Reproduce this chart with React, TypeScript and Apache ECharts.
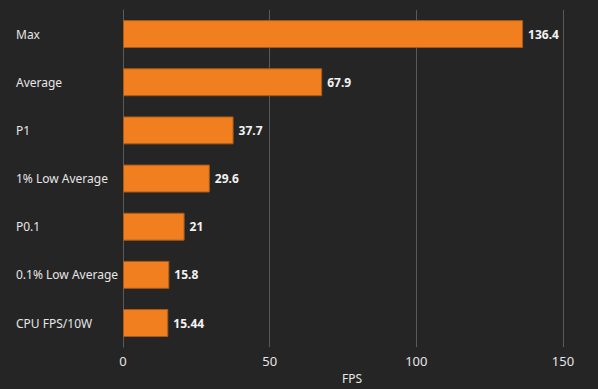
import React, { useEffect, useRef } from "react";
import * as echarts from "echarts";

const categories = [
  "Max",
  "Average",
  "P1",
  "1% Low Average",
  "P0.1",
  "0.1% Low Average",
  "CPU FPS/10W",
];
const values = [136.4, 67.9, 37.7, 29.6, 21, 15.8, 15.44];
const xTicks = [0, 50, 100, 150];

const FONT = "'Noto Sans', 'Open Sans', sans-serif";

export default function App() {
  const ref = useRef<HTMLDivElement>(null);
  useEffect(() => {
    if (!ref.current) return;
    const chart = echarts.init(ref.current, undefined, { renderer: "svg" });
    chart.setOption({
      animation: false,
      backgroundColor: "#252525",
      textStyle: { fontFamily: FONT },
      grid: { left: 123, right: 35, top: 10, bottom: 37, containLabel: false },
      xAxis: {
        type: "value",
        min: xTicks[0],
        max: xTicks[xTicks.length - 1],
        interval: 50,
        name: "FPS",
        nameLocation: "middle",
        nameGap: 19,
        nameTextStyle: { color: "#e6e6e6", fontSize: 12, fontFamily: FONT, padding: [0, 0, 0, 18] },
        axisLine: { show: false },
        axisTick: { show: false },
        axisLabel: { color: "#e6e6e6", fontSize: 13, margin: 7, fontFamily: FONT },
        splitLine: { show: true, lineStyle: { color: "#5a5a5a", width: 1 } },
      },
      yAxis: {
        type: "category",
        data: categories,
        inverse: true,
        axisLine: { show: true, lineStyle: { color: "#5a5a5a" } },
        axisTick: { show: false },
        axisLabel: {
          color: "#e6e6e6",
          fontSize: 12,
          align: "left",
          margin: 107,
          fontFamily: FONT,
        },
      },
      series: [
        {
          type: "bar",
          data: values,
          barCategoryGap: "42%",
          itemStyle: { color: "#f17f20", borderColor: "#a85a18", borderWidth: 1 },
          label: {
            show: true,
            position: "right",
            distance: 5,
            color: "#f2f2f2",
            fontWeight: "bold",
            fontSize: 12,
            fontFamily: FONT,
          },
        },
      ],
    });
    return () => chart.dispose();
  }, []);
  return <div ref={ref} style={{ width: 598, height: 389, position: "absolute", left: 0, top: 0 }} />;
}
